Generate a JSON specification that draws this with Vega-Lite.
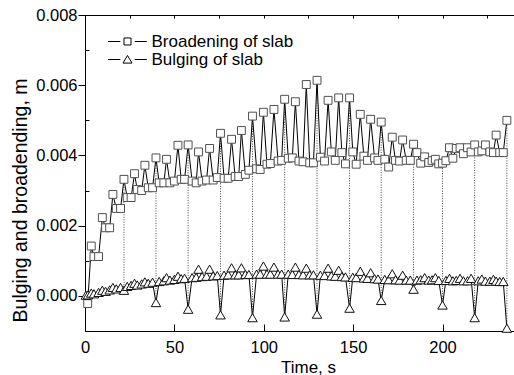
{
  "$schema": "https://vega.github.io/schema/vega-lite/v6.json",
  "width": 429,
  "height": 316,
  "autosize": "none",
  "padding": {"left": 85, "top": 15, "right": 0, "bottom": 44},
  "background": "white",
  "config": {
    "view": {"stroke": null},
    "font": "Liberation Sans",
    "axis": {"grid": false, "labelFlush": false, "domainColor": "black", "tickColor": "black", "labelColor": "black", "titleColor": "black", "titleFontWeight": "normal"}
  },
  "datasets": {
    "drops": [
      {"t": 21.8, "top": 0.00332, "bottom": 0.00016},
      {"t": 39.7, "top": 0.00393, "bottom": -0.00019},
      {"t": 57.7, "top": 0.0043, "bottom": -0.00038},
      {"t": 75.8, "top": 0.00463, "bottom": -0.00054},
      {"t": 93.7, "top": 0.00512, "bottom": -0.00062},
      {"t": 111.7, "top": 0.0056, "bottom": -0.0006},
      {"t": 129.8, "top": 0.00614, "bottom": -0.00052},
      {"t": 148.0, "top": 0.00564, "bottom": -0.00035},
      {"t": 165.7, "top": 0.00495, "bottom": -0.00013},
      {"t": 183.8, "top": 0.00432, "bottom": 0.00019},
      {"t": 200.0, "top": 0.00378, "bottom": -0.00026},
      {"t": 218.0, "top": 0.0043, "bottom": -0.00062},
      {"t": 236.0, "top": 0.005, "bottom": -0.00092}
    ],
    "series": [
      {"s": "Broadening of slab", "t": 1.5, "v": -0.00022},
      {"s": "Broadening of slab", "t": 3.5, "v": 0.00142},
      {"s": "Broadening of slab", "t": 5.0, "v": 0.00112},
      {"s": "Broadening of slab", "t": 7.6, "v": 0.00112},
      {"s": "Broadening of slab", "t": 9.7, "v": 0.00223},
      {"s": "Broadening of slab", "t": 11.5, "v": 0.00194},
      {"s": "Broadening of slab", "t": 13.8, "v": 0.00194},
      {"s": "Broadening of slab", "t": 15.6, "v": 0.00289},
      {"s": "Broadening of slab", "t": 17.5, "v": 0.00249},
      {"s": "Broadening of slab", "t": 19.9, "v": 0.00249},
      {"s": "Broadening of slab", "t": 21.8, "v": 0.00332},
      {"s": "Broadening of slab", "t": 23.6, "v": 0.0028},
      {"s": "Broadening of slab", "t": 25.8, "v": 0.0028},
      {"s": "Broadening of slab", "t": 27.7, "v": 0.00348},
      {"s": "Broadening of slab", "t": 29.2, "v": 0.00303},
      {"s": "Broadening of slab", "t": 31.7, "v": 0.003},
      {"s": "Broadening of slab", "t": 33.5, "v": 0.00372},
      {"s": "Broadening of slab", "t": 35.4, "v": 0.00308},
      {"s": "Broadening of slab", "t": 37.8, "v": 0.00308},
      {"s": "Broadening of slab", "t": 39.7, "v": 0.00393},
      {"s": "Broadening of slab", "t": 41.5, "v": 0.00322},
      {"s": "Broadening of slab", "t": 44.1, "v": 0.00322},
      {"s": "Broadening of slab", "t": 45.6, "v": 0.00389},
      {"s": "Broadening of slab", "t": 47.5, "v": 0.00322},
      {"s": "Broadening of slab", "t": 50.0, "v": 0.00327},
      {"s": "Broadening of slab", "t": 52.0, "v": 0.00429},
      {"s": "Broadening of slab", "t": 53.8, "v": 0.00332},
      {"s": "Broadening of slab", "t": 55.7, "v": 0.00332},
      {"s": "Broadening of slab", "t": 57.7, "v": 0.0043},
      {"s": "Broadening of slab", "t": 59.9, "v": 0.00327},
      {"s": "Broadening of slab", "t": 62.2, "v": 0.00322},
      {"s": "Broadening of slab", "t": 63.5, "v": 0.0041},
      {"s": "Broadening of slab", "t": 65.5, "v": 0.00327},
      {"s": "Broadening of slab", "t": 68.0, "v": 0.0033},
      {"s": "Broadening of slab", "t": 69.7, "v": 0.0042},
      {"s": "Broadening of slab", "t": 71.7, "v": 0.0033},
      {"s": "Broadening of slab", "t": 74.0, "v": 0.00337},
      {"s": "Broadening of slab", "t": 75.8, "v": 0.00463},
      {"s": "Broadening of slab", "t": 77.8, "v": 0.00335},
      {"s": "Broadening of slab", "t": 80.1, "v": 0.00335},
      {"s": "Broadening of slab", "t": 82.0, "v": 0.00446},
      {"s": "Broadening of slab", "t": 84.0, "v": 0.0034},
      {"s": "Broadening of slab", "t": 86.0, "v": 0.0034},
      {"s": "Broadening of slab", "t": 87.5, "v": 0.00471},
      {"s": "Broadening of slab", "t": 89.7, "v": 0.00346},
      {"s": "Broadening of slab", "t": 91.7, "v": 0.00358},
      {"s": "Broadening of slab", "t": 93.7, "v": 0.00512},
      {"s": "Broadening of slab", "t": 96.0, "v": 0.00362},
      {"s": "Broadening of slab", "t": 98.0, "v": 0.0036},
      {"s": "Broadening of slab", "t": 99.8, "v": 0.00523},
      {"s": "Broadening of slab", "t": 101.8, "v": 0.00375},
      {"s": "Broadening of slab", "t": 103.7, "v": 0.00377},
      {"s": "Broadening of slab", "t": 105.7, "v": 0.00531},
      {"s": "Broadening of slab", "t": 108.0, "v": 0.00384},
      {"s": "Broadening of slab", "t": 110.0, "v": 0.00386},
      {"s": "Broadening of slab", "t": 111.7, "v": 0.0056},
      {"s": "Broadening of slab", "t": 113.7, "v": 0.00392},
      {"s": "Broadening of slab", "t": 116.0, "v": 0.00393},
      {"s": "Broadening of slab", "t": 117.7, "v": 0.00553},
      {"s": "Broadening of slab", "t": 119.7, "v": 0.00384},
      {"s": "Broadening of slab", "t": 122.0, "v": 0.00382},
      {"s": "Broadening of slab", "t": 123.8, "v": 0.00602},
      {"s": "Broadening of slab", "t": 125.7, "v": 0.00379},
      {"s": "Broadening of slab", "t": 127.8, "v": 0.00379},
      {"s": "Broadening of slab", "t": 129.8, "v": 0.00614},
      {"s": "Broadening of slab", "t": 131.7, "v": 0.00395},
      {"s": "Broadening of slab", "t": 134.0, "v": 0.00384},
      {"s": "Broadening of slab", "t": 136.0, "v": 0.00557},
      {"s": "Broadening of slab", "t": 137.8, "v": 0.0041},
      {"s": "Broadening of slab", "t": 140.0, "v": 0.00386},
      {"s": "Broadening of slab", "t": 141.9, "v": 0.00564},
      {"s": "Broadening of slab", "t": 143.7, "v": 0.00408},
      {"s": "Broadening of slab", "t": 145.7, "v": 0.00376},
      {"s": "Broadening of slab", "t": 148.0, "v": 0.00564},
      {"s": "Broadening of slab", "t": 149.8, "v": 0.0041},
      {"s": "Broadening of slab", "t": 151.7, "v": 0.00375},
      {"s": "Broadening of slab", "t": 154.0, "v": 0.00517},
      {"s": "Broadening of slab", "t": 156.0, "v": 0.00398},
      {"s": "Broadening of slab", "t": 158.0, "v": 0.00386},
      {"s": "Broadening of slab", "t": 159.8, "v": 0.00503},
      {"s": "Broadening of slab", "t": 162.0, "v": 0.00393},
      {"s": "Broadening of slab", "t": 163.9, "v": 0.00386},
      {"s": "Broadening of slab", "t": 165.7, "v": 0.00495},
      {"s": "Broadening of slab", "t": 167.7, "v": 0.00389},
      {"s": "Broadening of slab", "t": 169.9, "v": 0.00367},
      {"s": "Broadening of slab", "t": 171.9, "v": 0.00452},
      {"s": "Broadening of slab", "t": 173.7, "v": 0.00386},
      {"s": "Broadening of slab", "t": 176.0, "v": 0.00384},
      {"s": "Broadening of slab", "t": 177.7, "v": 0.00444},
      {"s": "Broadening of slab", "t": 179.7, "v": 0.00386},
      {"s": "Broadening of slab", "t": 182.0, "v": 0.00386},
      {"s": "Broadening of slab", "t": 183.8, "v": 0.00432},
      {"s": "Broadening of slab", "t": 185.7, "v": 0.00408},
      {"s": "Broadening of slab", "t": 187.8, "v": 0.00378},
      {"s": "Broadening of slab", "t": 190.0, "v": 0.00396},
      {"s": "Broadening of slab", "t": 192.3, "v": 0.0038},
      {"s": "Broadening of slab", "t": 194.2, "v": 0.00385},
      {"s": "Broadening of slab", "t": 196.0, "v": 0.00389},
      {"s": "Broadening of slab", "t": 197.9, "v": 0.00376},
      {"s": "Broadening of slab", "t": 200.0, "v": 0.00378},
      {"s": "Broadening of slab", "t": 201.9, "v": 0.00385},
      {"s": "Broadening of slab", "t": 203.9, "v": 0.00422},
      {"s": "Broadening of slab", "t": 205.8, "v": 0.00392},
      {"s": "Broadening of slab", "t": 207.7, "v": 0.0042},
      {"s": "Broadening of slab", "t": 209.8, "v": 0.00422},
      {"s": "Broadening of slab", "t": 211.7, "v": 0.00405},
      {"s": "Broadening of slab", "t": 214.0, "v": 0.00422},
      {"s": "Broadening of slab", "t": 216.0, "v": 0.0041},
      {"s": "Broadening of slab", "t": 218.0, "v": 0.0043},
      {"s": "Broadening of slab", "t": 220.0, "v": 0.0041},
      {"s": "Broadening of slab", "t": 222.0, "v": 0.00413},
      {"s": "Broadening of slab", "t": 224.0, "v": 0.0043},
      {"s": "Broadening of slab", "t": 226.5, "v": 0.0041},
      {"s": "Broadening of slab", "t": 228.5, "v": 0.00408},
      {"s": "Broadening of slab", "t": 230.0, "v": 0.00458},
      {"s": "Broadening of slab", "t": 232.0, "v": 0.00408},
      {"s": "Broadening of slab", "t": 234.0, "v": 0.00408},
      {"s": "Broadening of slab", "t": 236.0, "v": 0.005},
      {"s": "Bulging of slab", "t": 0.5, "v": 0.00002},
      {"s": "Bulging of slab", "t": 1.7, "v": 0.00003},
      {"s": "Bulging of slab", "t": 3.5, "v": 0.00008},
      {"s": "Bulging of slab", "t": 5.0, "v": 0.00006},
      {"s": "Bulging of slab", "t": 7.6, "v": 0.0001},
      {"s": "Bulging of slab", "t": 9.7, "v": 0.00016},
      {"s": "Bulging of slab", "t": 11.5, "v": 0.00013},
      {"s": "Bulging of slab", "t": 13.8, "v": 0.00017},
      {"s": "Bulging of slab", "t": 15.6, "v": 0.00024},
      {"s": "Bulging of slab", "t": 17.5, "v": 0.0002},
      {"s": "Bulging of slab", "t": 19.9, "v": 0.00024},
      {"s": "Bulging of slab", "t": 21.8, "v": 0.00016},
      {"s": "Bulging of slab", "t": 23.6, "v": 0.00027},
      {"s": "Bulging of slab", "t": 25.8, "v": 0.0003},
      {"s": "Bulging of slab", "t": 27.7, "v": 0.00036},
      {"s": "Bulging of slab", "t": 29.2, "v": 0.00031},
      {"s": "Bulging of slab", "t": 31.7, "v": 0.00034},
      {"s": "Bulging of slab", "t": 33.5, "v": 0.0004},
      {"s": "Bulging of slab", "t": 35.4, "v": 0.00036},
      {"s": "Bulging of slab", "t": 37.8, "v": 0.00039},
      {"s": "Bulging of slab", "t": 39.7, "v": -0.00019},
      {"s": "Bulging of slab", "t": 41.5, "v": 0.00041},
      {"s": "Bulging of slab", "t": 44.1, "v": 0.00043},
      {"s": "Bulging of slab", "t": 45.6, "v": 0.00052},
      {"s": "Bulging of slab", "t": 47.5, "v": 0.00045},
      {"s": "Bulging of slab", "t": 50.0, "v": 0.00047},
      {"s": "Bulging of slab", "t": 52.0, "v": 0.00056},
      {"s": "Bulging of slab", "t": 53.8, "v": 0.00049},
      {"s": "Bulging of slab", "t": 55.7, "v": 0.0005},
      {"s": "Bulging of slab", "t": 57.7, "v": -0.00038},
      {"s": "Bulging of slab", "t": 59.9, "v": 0.00052},
      {"s": "Bulging of slab", "t": 62.2, "v": 0.00053},
      {"s": "Bulging of slab", "t": 63.5, "v": 0.00076},
      {"s": "Bulging of slab", "t": 65.5, "v": 0.00055},
      {"s": "Bulging of slab", "t": 68.0, "v": 0.00056},
      {"s": "Bulging of slab", "t": 69.7, "v": 0.00076},
      {"s": "Bulging of slab", "t": 71.7, "v": 0.00057},
      {"s": "Bulging of slab", "t": 74.0, "v": 0.00058},
      {"s": "Bulging of slab", "t": 75.8, "v": -0.00054},
      {"s": "Bulging of slab", "t": 77.8, "v": 0.00059},
      {"s": "Bulging of slab", "t": 80.1, "v": 0.0006},
      {"s": "Bulging of slab", "t": 82.0, "v": 0.0008},
      {"s": "Bulging of slab", "t": 84.0, "v": 0.0006},
      {"s": "Bulging of slab", "t": 86.0, "v": 0.0006},
      {"s": "Bulging of slab", "t": 87.5, "v": 0.0008},
      {"s": "Bulging of slab", "t": 89.7, "v": 0.00061},
      {"s": "Bulging of slab", "t": 91.7, "v": 0.00061},
      {"s": "Bulging of slab", "t": 93.7, "v": -0.00062},
      {"s": "Bulging of slab", "t": 96.0, "v": 0.00062},
      {"s": "Bulging of slab", "t": 98.0, "v": 0.00062},
      {"s": "Bulging of slab", "t": 99.8, "v": 0.00085},
      {"s": "Bulging of slab", "t": 101.8, "v": 0.00062},
      {"s": "Bulging of slab", "t": 103.7, "v": 0.00062},
      {"s": "Bulging of slab", "t": 105.7, "v": 0.00082},
      {"s": "Bulging of slab", "t": 108.0, "v": 0.00062},
      {"s": "Bulging of slab", "t": 110.0, "v": 0.00062},
      {"s": "Bulging of slab", "t": 111.7, "v": -0.0006},
      {"s": "Bulging of slab", "t": 113.7, "v": 0.00062},
      {"s": "Bulging of slab", "t": 116.0, "v": 0.00061},
      {"s": "Bulging of slab", "t": 117.7, "v": 0.00082},
      {"s": "Bulging of slab", "t": 119.7, "v": 0.00061},
      {"s": "Bulging of slab", "t": 122.0, "v": 0.0006},
      {"s": "Bulging of slab", "t": 123.8, "v": 0.00079},
      {"s": "Bulging of slab", "t": 125.7, "v": 0.0006},
      {"s": "Bulging of slab", "t": 127.8, "v": 0.0006},
      {"s": "Bulging of slab", "t": 129.8, "v": -0.00052},
      {"s": "Bulging of slab", "t": 131.7, "v": 0.00059},
      {"s": "Bulging of slab", "t": 134.0, "v": 0.00058},
      {"s": "Bulging of slab", "t": 136.0, "v": 0.00079},
      {"s": "Bulging of slab", "t": 137.8, "v": 0.00057},
      {"s": "Bulging of slab", "t": 140.0, "v": 0.00056},
      {"s": "Bulging of slab", "t": 141.9, "v": 0.00073},
      {"s": "Bulging of slab", "t": 143.7, "v": 0.00055},
      {"s": "Bulging of slab", "t": 145.7, "v": 0.00054},
      {"s": "Bulging of slab", "t": 148.0, "v": -0.00035},
      {"s": "Bulging of slab", "t": 149.8, "v": 0.00053},
      {"s": "Bulging of slab", "t": 151.7, "v": 0.00052},
      {"s": "Bulging of slab", "t": 154.0, "v": 0.0007},
      {"s": "Bulging of slab", "t": 156.0, "v": 0.00051},
      {"s": "Bulging of slab", "t": 158.0, "v": 0.0005},
      {"s": "Bulging of slab", "t": 159.8, "v": 0.00066},
      {"s": "Bulging of slab", "t": 162.0, "v": 0.00049},
      {"s": "Bulging of slab", "t": 163.9, "v": 0.00048},
      {"s": "Bulging of slab", "t": 165.7, "v": -0.00013},
      {"s": "Bulging of slab", "t": 167.7, "v": 0.00047},
      {"s": "Bulging of slab", "t": 169.9, "v": 0.00046},
      {"s": "Bulging of slab", "t": 171.9, "v": 0.00063},
      {"s": "Bulging of slab", "t": 173.7, "v": 0.00046},
      {"s": "Bulging of slab", "t": 176.0, "v": 0.00045},
      {"s": "Bulging of slab", "t": 177.7, "v": 0.00059},
      {"s": "Bulging of slab", "t": 179.7, "v": 0.00045},
      {"s": "Bulging of slab", "t": 182.0, "v": 0.00045},
      {"s": "Bulging of slab", "t": 183.8, "v": 0.00019},
      {"s": "Bulging of slab", "t": 185.7, "v": 0.00045},
      {"s": "Bulging of slab", "t": 187.8, "v": 0.00046},
      {"s": "Bulging of slab", "t": 190.0, "v": 0.00052},
      {"s": "Bulging of slab", "t": 192.3, "v": 0.00045},
      {"s": "Bulging of slab", "t": 194.2, "v": 0.00046},
      {"s": "Bulging of slab", "t": 196.0, "v": 0.00052},
      {"s": "Bulging of slab", "t": 197.9, "v": 0.00044},
      {"s": "Bulging of slab", "t": 200.0, "v": -0.00026},
      {"s": "Bulging of slab", "t": 201.9, "v": 0.00044},
      {"s": "Bulging of slab", "t": 203.9, "v": 0.0005},
      {"s": "Bulging of slab", "t": 205.8, "v": 0.00043},
      {"s": "Bulging of slab", "t": 207.7, "v": 0.00044},
      {"s": "Bulging of slab", "t": 209.8, "v": 0.0005},
      {"s": "Bulging of slab", "t": 211.7, "v": 0.00043},
      {"s": "Bulging of slab", "t": 214.0, "v": 0.00043},
      {"s": "Bulging of slab", "t": 216.0, "v": 0.0005},
      {"s": "Bulging of slab", "t": 218.0, "v": -0.00062},
      {"s": "Bulging of slab", "t": 220.0, "v": 0.00043},
      {"s": "Bulging of slab", "t": 222.0, "v": 0.00048},
      {"s": "Bulging of slab", "t": 224.0, "v": 0.00042},
      {"s": "Bulging of slab", "t": 226.5, "v": 0.00042},
      {"s": "Bulging of slab", "t": 228.5, "v": 0.00047},
      {"s": "Bulging of slab", "t": 230.0, "v": 0.00042},
      {"s": "Bulging of slab", "t": 232.0, "v": 0.00041},
      {"s": "Bulging of slab", "t": 234.0, "v": 0.00041},
      {"s": "Bulging of slab", "t": 236.0, "v": -0.00092}
    ]
  },
  "layer": [
    {
      "data": {"name": "drops"},
      "mark": {"type": "rule", "color": "#444444", "strokeWidth": 1, "strokeDash": [1, 1.5]},
      "encoding": {
        "x": {"field": "t", "type": "quantitative", "scale": {"domain": [0, 240], "nice": false},
          "axis": {"orient": "top", "values": [0, 25, 50, 75, 100, 125, 150, 175, 200, 225], "tickSize": -3, "labels": false, "title": null, "domain": true}},
        "y": {"field": "top", "type": "quantitative", "scale": {"domain": [-0.001, 0.008], "nice": false, "zero": false},
          "axis": {"orient": "left", "values": [-0.001, 0.001, 0.003, 0.005, 0.007], "tickSize": -4, "labels": false, "title": null, "domain": false}},
        "y2": {"field": "bottom"}
      }
    },
    {
      "data": {"name": "series"},
      "mark": {"type": "line", "color": "black", "strokeWidth": 1},
      "encoding": {
        "x": {"field": "t", "type": "quantitative", "scale": {"domain": [0, 240], "nice": false},
          "axis": {"orient": "bottom", "values": [0, 50, 100, 150, 200], "tickSize": -7, "labelPadding": 15, "labelFontSize": 16.5, "title": "Time, s", "titleFontSize": 17, "titleX": 223, "titleY": 41, "titleBaseline": "alphabetic", "titleAlign": "center"}},
        "y": {"field": "v", "type": "quantitative", "scale": {"domain": [-0.001, 0.008], "nice": false, "zero": false},
          "axis": {"orient": "left", "values": [0, 0.002, 0.004, 0.006, 0.008], "format": ".3f", "tickSize": 7, "labelPadding": 1, "labelFontSize": 16.5, "title": "Bulging and broadending, m", "titleFontSize": 19.5, "titleAngle": 270, "titleX": -59, "titleY": 185, "titleAlign": "center", "titleBaseline": "alphabetic"}},
        "detail": {"field": "s", "type": "nominal"}
      }
    },
    {
      "data": {"name": "series"},
      "transform": [{"filter": "datum.s === 'Broadening of slab'"}],
      "mark": {"type": "point", "shape": "square", "filled": true, "fill": "white", "stroke": "#505050", "strokeWidth": 1, "opacity": 1, "size": 62},
      "encoding": {
        "x": {"field": "t", "type": "quantitative", "scale": {"domain": [0, 240], "nice": false}, "axis": null},
        "y": {"field": "v", "type": "quantitative", "scale": {"domain": [-0.001, 0.008], "nice": false, "zero": false}, "axis": null}
      }
    },
    {
      "data": {"name": "series"},
      "transform": [{"filter": "datum.s === 'Bulging of slab'"}],
      "mark": {"type": "point", "shape": "triangle-up", "filled": true, "fill": "white", "stroke": "#111111", "strokeWidth": 1, "opacity": 1, "size": 90},
      "encoding": {
        "x": {"field": "t", "type": "quantitative", "scale": {"domain": [0, 240], "nice": false}, "axis": null},
        "y": {"field": "v", "type": "quantitative", "scale": {"domain": [-0.001, 0.008], "nice": false, "zero": false}, "axis": null}
      }
    },
    {
      "data": {"name": "series"},
      "transform": [{"filter": "datum.t < -100"}],
      "mark": {"type": "point", "filled": false, "color": "black", "strokeWidth": 1, "opacity": 1},
      "encoding": {
        "x": {"field": "t", "type": "quantitative", "scale": {"domain": [0, 240], "nice": false}, "axis": null},
        "y": {"field": "v", "type": "quantitative", "scale": {"domain": [-0.001, 0.008], "nice": false, "zero": false}, "axis": null},
        "shape": {"field": "s", "type": "nominal",
          "scale": {"domain": ["Broadening of slab", "Bulging of slab"], "range": ["M-2.15,0H-0.8M0.8,0H2.15M-0.39,-0.39H0.39V0.39H-0.39Z", "M-2.15,0H-0.8M0.8,0H2.15M0,-0.45L0.5,0.4H-0.5Z"]},
          "legend": {
            "title": null, "orient": "none", "legendX": 33, "legendY": 17, "padding": 0,
            "symbolSize": 324, "rowPadding": 0, "labelOffset": 14.5, "labelFontSize": 17, "labelColor": "black",
            "symbolStrokeColor": "black", "symbolStrokeWidth": 1, "symbolOpacity": 1
          }}
      }
    }
  ],
  "resolve": {"axis": {"x": "independent", "y": "independent"}}
}
